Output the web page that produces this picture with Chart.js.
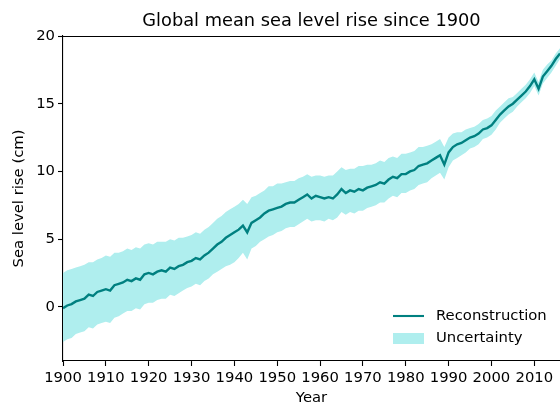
<!DOCTYPE html>
<html>
<head>
<meta charset="utf-8">
<script src="https://cdn.jsdelivr.net/npm/chart.js@4.4.1/dist/chart.umd.min.js"></script>
<style>
  html, body { margin: 0; padding: 0; background: #fff; }
</style>
</head>
<body>
<canvas id="chSea" width="560" height="406"></canvas>
<script>
// yearly values, 1900..2016 (cm)
const firstYear = 1900;
const level = [
  -0.1, 0.1, 0.2, 0.4, 0.5, 0.6, 0.9, 0.8, 1.1, 1.2,
  1.3, 1.2, 1.6, 1.7, 1.8, 2.0, 1.9, 2.1, 2.0, 2.4,
  2.5, 2.4, 2.6, 2.7, 2.6, 2.9, 2.8, 3.0, 3.1, 3.3,
  3.4, 3.6, 3.5, 3.8, 4.0, 4.3, 4.6, 4.8, 5.1, 5.3,
  5.5, 5.7, 6.0, 5.5, 6.2, 6.4, 6.6, 6.9, 7.1, 7.2,
  7.3, 7.4, 7.6, 7.7, 7.7, 7.9, 8.1, 8.3, 8.0, 8.2,
  8.1, 8.0, 8.1, 8.0, 8.3, 8.7, 8.4, 8.6, 8.5, 8.7,
  8.6, 8.8, 8.9, 9.0, 9.2, 9.1, 9.4, 9.6, 9.5, 9.8,
  9.8, 10.0, 10.1, 10.4, 10.5, 10.6, 10.8, 11.0, 11.2, 10.5,
  11.4, 11.8, 12.0, 12.1, 12.3, 12.5, 12.6, 12.8, 13.1, 13.2,
  13.4, 13.8, 14.2, 14.5, 14.8, 15.0, 15.3, 15.6, 15.9, 16.3,
  16.8, 16.1, 17.0, 17.4, 17.8, 18.3, 18.7
];
const upper = [
  2.5, 2.7, 2.8, 2.9, 3.0, 3.1, 3.3, 3.3, 3.5, 3.6,
  3.8, 3.7, 4.0, 4.0, 4.1, 4.3, 4.2, 4.4, 4.3, 4.6,
  4.7, 4.6, 4.8, 4.8, 4.8, 5.0, 4.9, 5.1, 5.1, 5.2,
  5.3, 5.5, 5.4, 5.7, 5.9, 6.2, 6.5, 6.7, 7.0, 7.2,
  7.4, 7.6, 7.9, 7.6, 8.1, 8.2, 8.4, 8.6, 8.9, 8.9,
  9.1, 9.1, 9.2, 9.3, 9.3, 9.5, 9.6, 9.8, 9.6, 9.7,
  9.7, 9.6, 9.7, 9.7, 10.0, 10.3, 10.1, 10.2, 10.2, 10.4,
  10.4, 10.5, 10.5, 10.6, 10.8, 10.7, 11.0, 11.1, 11.0, 11.3,
  11.3, 11.4, 11.5, 11.8, 11.8, 11.9, 12.0, 12.2, 12.4, 11.8,
  12.5, 12.8, 12.9, 12.9, 13.1, 13.2, 13.3, 13.5, 13.8, 13.9,
  14.1, 14.5, 14.8, 15.1, 15.4, 15.5, 15.8, 16.1, 16.4, 16.8,
  17.3, 16.6, 17.5, 17.9, 18.2, 18.7, 19.1
];
const lower = [
  -2.6, -2.4, -2.3, -2.0, -1.9, -1.8, -1.5, -1.6, -1.3, -1.2,
  -1.1, -1.2, -0.8, -0.7, -0.5, -0.3, -0.3, -0.1, -0.2, 0.2,
  0.3, 0.3, 0.5, 0.6, 0.6, 0.9, 0.8, 1.0, 1.2, 1.4,
  1.5, 1.7, 1.6, 1.9, 2.1, 2.4, 2.6, 2.8, 3.0, 3.1,
  3.3, 3.6, 4.0, 3.5, 4.3, 4.5, 4.8, 5.0, 5.2, 5.3,
  5.5, 5.6, 5.8, 5.9, 5.9, 6.1, 6.3, 6.5, 6.3, 6.4,
  6.4, 6.3, 6.5, 6.4, 6.6, 7.0, 6.8, 7.0, 6.9, 7.1,
  7.1, 7.3, 7.4, 7.5, 7.7, 7.7, 8.0, 8.2, 8.1, 8.4,
  8.4, 8.6, 8.7, 9.0, 9.1, 9.2, 9.5, 9.7, 9.9, 9.4,
  10.3, 10.8, 11.0, 11.2, 11.4, 11.7, 11.8, 12.0, 12.4, 12.5,
  12.7, 13.1, 13.6, 13.9, 14.2, 14.4, 14.8, 15.1, 15.4, 15.8,
  16.3, 15.6, 16.5, 16.9, 17.3, 17.8, 18.3
];
const years = level.map((_, i) => firstYear + i);

const xTicks = [1900, 1910, 1920, 1930, 1940, 1950, 1960, 1970, 1980, 1990, 2000, 2010];
const yTicks = [0, 5, 10, 15, 20];

const LINE = '#008080', BAND = '#afeeee';
const FONT = "'DejaVu Sans', sans-serif";
const FS = 14.8;

function pts(vals){ return vals.map((v, i) => ({ x: years[i], y: v })); }

// title, top spine and the legend box in the lower right
const decor = {
  id: 'decor',
  afterDraw(c){
    const { ctx, chartArea: a } = c;
    ctx.save();
    ctx.strokeStyle = '#000'; ctx.lineWidth = 1.1;
    ctx.beginPath(); ctx.moveTo(a.left, a.top + 0.5); ctx.lineTo(a.right, a.top + 0.5); ctx.stroke();

    ctx.fillStyle = '#000';
    ctx.textAlign = 'center'; ctx.textBaseline = 'middle';
    ctx.font = '17.8px ' + FONT;
    ctx.fillText('Global mean sea level rise since 1900', (a.left + a.right) / 2, 21);

    const lx = a.left + 330, ly = a.bottom - 45;
    ctx.strokeStyle = LINE; ctx.lineWidth = 2.1;
    ctx.beginPath(); ctx.moveTo(lx, ly); ctx.lineTo(lx + 31, ly); ctx.stroke();
    ctx.fillStyle = BAND;
    ctx.fillRect(lx, ly + 17, 31, 11);
    ctx.fillStyle = '#000';
    ctx.textAlign = 'left';
    ctx.font = FS + 'px ' + FONT;
    ctx.fillText(c.data.datasets[0].label, lx + 43, ly);
    ctx.fillText('Uncertainty', lx + 43, ly + 22);
    ctx.restore();
  }
};

new Chart(document.getElementById('chSea').getContext('2d'), {
  type: 'line',
  data: {
    datasets: [
      { label: 'Reconstruction', data: pts(level), borderColor: LINE, borderWidth: 2.4, pointRadius: 0, tension: 0, fill: false },
      { label: 'Uncertainty', data: pts(upper), borderWidth: 0, borderColor: BAND, backgroundColor: BAND, pointRadius: 0, fill: '+1' },
      { label: 'lower', data: pts(lower), borderWidth: 0, borderColor: BAND, pointRadius: 0, fill: false }
    ]
  },
  options: {
    responsive: false,
    animation: false,
    devicePixelRatio: 1,
    layout: { padding: { top: 36, right: 0, left: 0, bottom: 0 } },
    plugins: { legend: { display: false }, title: { display: false }, tooltip: { enabled: false } },
    scales: {
      x: {
        type: 'linear', min: 1900, max: 2016,
        afterBuildTicks: s => { s.ticks = xTicks.map(v => ({ value: v })); },
        afterFit: s => { s.height = 45; },
        border: { color: '#000', width: 1.1 },
        grid: { drawOnChartArea: false, tickLength: 5, tickColor: '#000', tickWidth: 1.1 },
        ticks: { color: '#000', font: { family: FONT, size: FS }, padding: 3, maxRotation: 0, callback: v => String(v) },
        title: { display: true, text: 'Year', color: '#000', font: { family: FONT, size: FS, lineHeight: 1.0 }, padding: { top: 2, bottom: 0 } }
      },
      y: {
        min: -4, max: 20,
        afterBuildTicks: s => { s.ticks = yTicks.map(v => ({ value: v })); },
        afterFit: s => { s.width = 63; },
        border: { color: '#000', width: 1.1 },
        grid: { drawOnChartArea: false, tickLength: 5, tickColor: '#000', tickWidth: 1.1 },
        ticks: { color: '#000', font: { family: FONT, size: FS }, padding: 3 },
        title: { display: true, text: 'Sea level rise (cm)', color: '#000', font: { family: FONT, size: FS, lineHeight: 1.2 }, padding: { top: 10, bottom: 0 } }
      }
    }
  },
  plugins: [decor]
});
</script>
</body>
</html>
